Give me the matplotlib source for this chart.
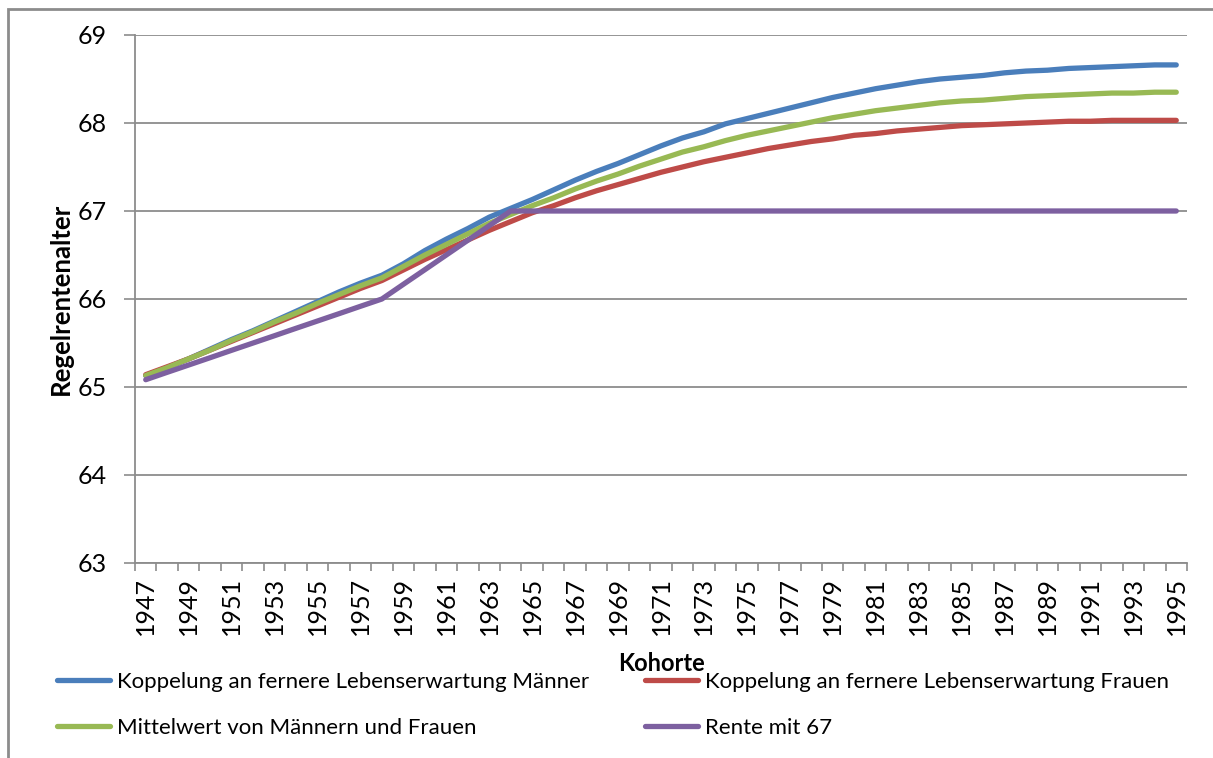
import numpy as np
import matplotlib
matplotlib.use("Agg")
import matplotlib.pyplot as plt
from matplotlib.patches import Rectangle

plt.rcParams["font.family"] = ["Lato", "DejaVu Sans"]

# ---- Data ----
years = list(range(1947, 1996))

maenner = [65.13, 65.22, 65.32, 65.43, 65.54, 65.64, 65.75, 65.86, 65.97, 66.08,
           66.18, 66.27, 66.40, 66.55, 66.68, 66.80, 66.93, 67.03, 67.13, 67.24,
           67.35, 67.45, 67.54, 67.64, 67.74, 67.83, 67.90, 67.99, 68.05, 68.11,
           68.17, 68.23, 68.29, 68.34, 68.39, 68.43, 68.47, 68.50, 68.52, 68.54,
           68.57, 68.59, 68.60, 68.62, 68.63, 68.64, 68.65, 68.66, 68.66]

frauen = [65.14, 65.23, 65.32, 65.42, 65.52, 65.62, 65.72, 65.82, 65.92, 66.02,
          66.12, 66.21, 66.33, 66.45, 66.56, 66.67, 66.78, 66.88, 66.98, 67.06,
          67.15, 67.23, 67.30, 67.37, 67.44, 67.50, 67.56, 67.61, 67.66, 67.71,
          67.75, 67.79, 67.82, 67.86, 67.88, 67.91, 67.93, 67.95, 67.97, 67.98,
          67.99, 68.00, 68.01, 68.02, 68.02, 68.03, 68.03, 68.03, 68.03]

mittel = [65.13, 65.22, 65.32, 65.42, 65.53, 65.63, 65.74, 65.84, 65.95, 66.05,
          66.15, 66.24, 66.37, 66.50, 66.62, 66.74, 66.86, 66.96, 67.06, 67.15,
          67.25, 67.34, 67.42, 67.51, 67.59, 67.67, 67.73, 67.80, 67.86, 67.91,
          67.96, 68.01, 68.06, 68.10, 68.14, 68.17, 68.20, 68.23, 68.25, 68.26,
          68.28, 68.30, 68.31, 68.32, 68.33, 68.34, 68.34, 68.35, 68.35]

rente67 = [65.083, 65.167, 65.25, 65.333, 65.417, 65.5, 65.583, 65.667, 65.75, 65.833,
           65.917, 66.0, 66.167, 66.333, 66.5, 66.667, 66.833, 67.0, 67.0, 67.0,
           67.0, 67.0, 67.0, 67.0, 67.0, 67.0, 67.0, 67.0, 67.0, 67.0,
           67.0, 67.0, 67.0, 67.0, 67.0, 67.0, 67.0, 67.0, 67.0, 67.0,
           67.0, 67.0, 67.0, 67.0, 67.0, 67.0, 67.0, 67.0, 67.0]

labels = ["Koppelung an fernere Lebenserwartung Männer",
          "Koppelung an fernere Lebenserwartung Frauen",
          "Mittelwert von Männern und Frauen",
          "Rente mit 67"]
colors = ["#4A7EBB", "#BE4B48", "#98B954", "#7D60A0"]
y_ticks = [63, 64, 65, 66, 67, 68, 69]

grey = "#8C8C8C"

fig = plt.figure(figsize=(12.13, 7.58), dpi=100)
ax = fig.add_axes([135 / 1213, 1 - 563 / 758, 1052 / 1213, 528 / 758])

# chart frame (only left/top visible in the reference)
fig.patches.append(Rectangle((8 / 1213, -0.05), 1.1, 1.05 - 9 / 758,
                             transform=fig.transFigure, fill=False,
                             edgecolor=grey, linewidth=2, zorder=0))

x = np.arange(len(years))
series = [maenner, frauen, mittel, rente67]
handles = []
for vals, lab, col in zip(series, labels, colors):
    h, = ax.plot(x, vals, color=col, linewidth=3.8, label=lab,
                 solid_capstyle="round", solid_joinstyle="round")
    handles.append(h)

ax.set_xlim(-0.5, len(years) - 0.5)
ax.set_ylim(63, 69)
ax.set_yticks(y_ticks)
ax.set_yticklabels([str(v) for v in y_ticks], fontsize=18)
ax.tick_params(axis="y", direction="out", length=8, width=1.2, color=grey, pad=12)

# category boundaries as tick marks, labels at the centres of every other year
ax.set_xticks(np.arange(-0.5, len(years), 1.0))
ax.set_xticklabels([])
ax.tick_params(axis="x", which="major", direction="out", length=6, width=1.2, color=grey)
ax.set_xticks(x[::2], minor=True)
ax.set_xticklabels([str(y) for y in years[::2]], minor=True, rotation=90, fontsize=18)
ax.tick_params(axis="x", which="minor", length=0, pad=10)

ax.grid(axis="y", color=grey, linewidth=1.3)
ax.set_axisbelow(True)
for side in ["top", "right"]:
    ax.spines[side].set_visible(False)
for side in ["left", "bottom"]:
    ax.spines[side].set_color(grey)
    ax.spines[side].set_linewidth(1.3)

ax.set_ylabel("Regelrentenalter", fontsize=18.5, fontweight="bold", labelpad=4)
ax.set_xlabel("Kohorte", fontsize=17, fontweight="bold", labelpad=12)

order = [0, 2, 1, 3]
fig.legend([handles[i] for i in order], [labels[i] for i in order],
           loc="upper left", bbox_to_anchor=(37 / 1213, 1 - 652 / 758),
           ncol=2, frameon=False, fontsize=16, handlelength=2.4,
           handletextpad=0.3, columnspacing=2.5, labelspacing=1.15)

plt.savefig("out.png", dpi=100)
plt.close()
